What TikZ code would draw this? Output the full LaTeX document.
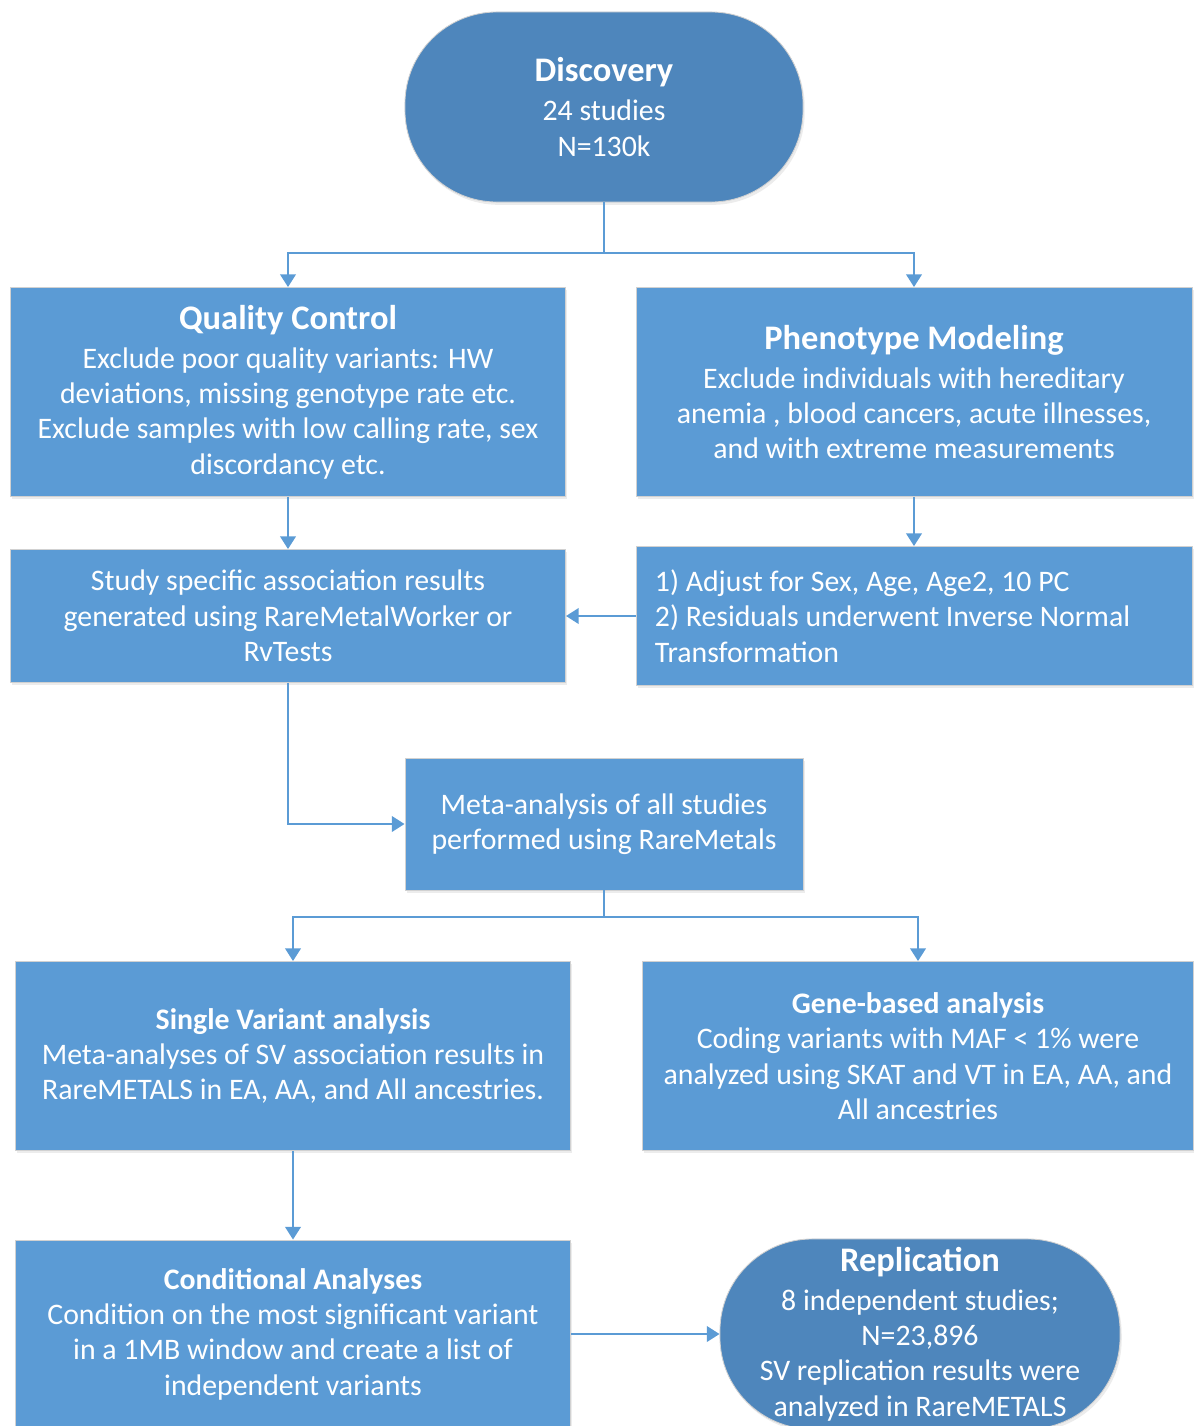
\documentclass[tikz,border=0pt]{standalone}
\usepackage{fontspec}
\setmainfont{Carlito}
\usetikzlibrary{arrows.meta,shadows}

\definecolor{boxblue}{HTML}{5B9BD5}
\definecolor{ovalblue}{HTML}{4E86BC}

% title line inside a box
\newcommand{\boxtitle}[1]{{\fontsize{24.5}{28}\selectfont\bfseries #1}\\[2.6pt]}

\begin{document}
\begin{tikzpicture}[x=0.025cm,y=-0.025cm,
    stepbox/.style={rectangle, fill=boxblue, draw=black!18, line width=0.6pt,
        text=white, align=center, inner sep=0pt,
        font=\fontsize{21.2}{25.1}\selectfont,
        drop shadow={opacity=0.15, shadow xshift=1.2pt, shadow yshift=-2pt}},
    oval/.style={stepbox, fill=ovalblue, rounded corners=2.3cm},
    flow/.style={draw=boxblue, line width=1.6pt},
    arr/.style={flow, -{Triangle[width=11pt,length=9pt]}}]

    \useasboundingbox (0,0) rectangle (1194,1426);

    % Discovery
    \node[oval, minimum width=9.95cm, minimum height=4.75cm] (disc) at (604,107)
        {\boxtitle{Discovery}24 studies\\N=130k};

    % Quality control and phenotype modeling
    \node[stepbox, minimum width=13.875cm, minimum height=5.225cm] (qc) at (288,392)
        {\boxtitle{Quality Control}Exclude poor quality variants: HW\\deviations, missing genotype rate etc.\\Exclude samples with low calling rate, sex\\discordancy etc.};
    \node[stepbox, minimum width=13.9cm, minimum height=5.225cm] (pheno) at (914,392)
        {\boxtitle{Phenotype Modeling}Exclude individuals with hereditary\\anemia , blood cancers, acute illnesses,\\and with extreme measurements};

    % Study results and adjustment
    \node[stepbox, minimum width=13.875cm, minimum height=3.325cm] (study) at (288,616)
        {Study specific association results\\generated using RareMetalWorker or\\RvTests};
    \node[stepbox, minimum width=13.9cm, minimum height=3.475cm, align=flush left,
          text width=13.9cm-0.95cm, inner xsep=0.475cm] (adjust) at (914,616)
        {1) Adjust for Sex, Age, Age2, 10 PC\\2) Residuals underwent Inverse Normal\\Transformation};

    % Meta-analysis
    \node[stepbox, minimum width=9.95cm, minimum height=3.3cm] (meta) at (604,824)
        {Meta-analysis of all studies\\performed using RareMetals};

    % Single variant and gene-based
    \node[stepbox, minimum width=13.875cm, minimum height=4.725cm] (sv) at (293,1056)
        {\textbf{Single Variant analysis}\\Meta-analyses of SV association results in\\RareMETALS in EA, AA, and All ancestries.};
    \node[stepbox, minimum width=13.775cm, minimum height=4.725cm] (gene) at (918,1056)
        {\textbf{Gene-based analysis}\\Coding variants with MAF < 1\% were\\analyzed using SKAT and VT in EA, AA, and\\All ancestries};

    % Conditional analyses and replication
    \node[stepbox, minimum width=13.875cm, minimum height=4.7cm] (cond) at (293,1334)
        {\textbf{Conditional Analyses}\\Condition on the most significant variant\\in a 1MB window and create a list of\\independent variants};
    \node[oval, minimum width=10cm, minimum height=4.75cm] (repl) at (920,1334)
        {\boxtitle{Replication}8 independent studies;\\N=23,896\\SV replication results were\\analyzed in RareMETALS};

    % Connectors
    \coordinate (split1) at (604,253);
    \draw[flow] (disc.south) -- (split1);
    \draw[arr] (split1) -| (qc.north);
    \draw[arr] (split1) -| (pheno.north);
    \draw[arr] (qc) -- (study);
    \draw[arr] (pheno) -- (adjust);
    \draw[arr] (adjust) -- (study);
    \draw[arr] (study.south) |- (meta.west);
    \coordinate (split2) at (604,917);
    \draw[flow] (meta) -- (split2);
    \draw[arr] (split2) -| (sv.north);
    \draw[arr] (split2) -| (gene.north);
    \draw[arr] (sv) -- (cond);
    \draw[arr] (cond) -- (repl);

\end{tikzpicture}
\end{document}
